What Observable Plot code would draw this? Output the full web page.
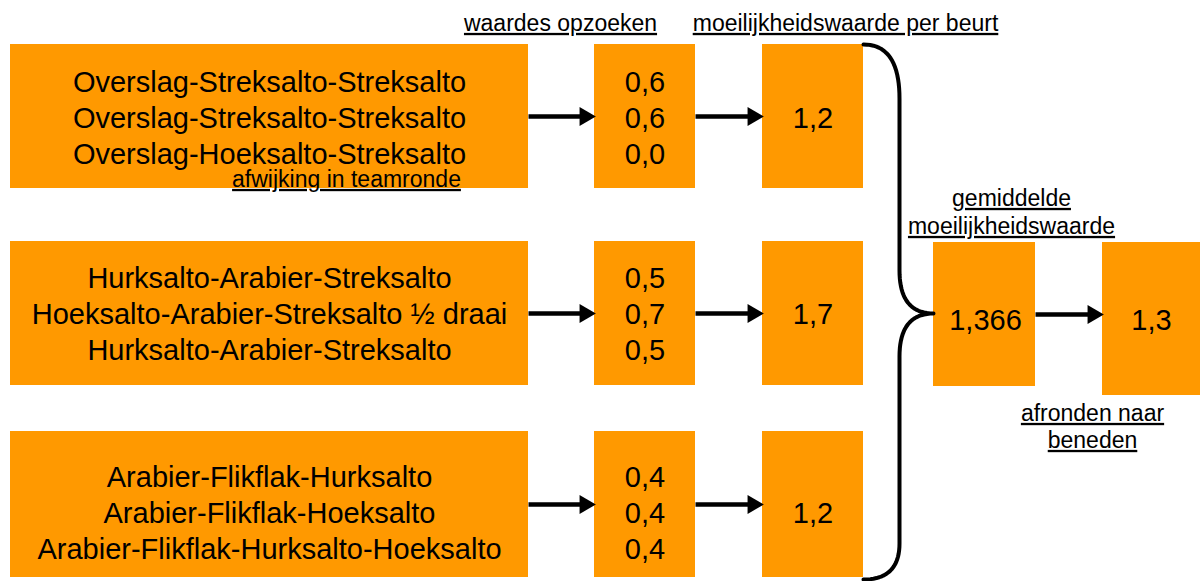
<!DOCTYPE html>
<html><head><meta charset="utf-8">
<script src="https://cdn.jsdelivr.net/npm/d3@7"></script>
<script src="https://cdn.jsdelivr.net/npm/@observablehq/plot@0.6"></script>
<style>body{margin:0;background:#fff} svg{display:block}</style>
</head><body><div id="chart"></div>
<script>
// ---- content (data) ----
const moves = [
  ["Overslag-Streksalto-Streksalto", "Overslag-Streksalto-Streksalto", "Overslag-Hoeksalto-Streksalto"],
  ["Hurksalto-Arabier-Streksalto", "Hoeksalto-Arabier-Streksalto ½ draai", "Hurksalto-Arabier-Streksalto"],
  ["Arabier-Flikflak-Hurksalto", "Arabier-Flikflak-Hoeksalto", "Arabier-Flikflak-Hurksalto-Hoeksalto"]
];
const lookupValues = [[0.6, 0.6, 0.0], [0.5, 0.7, 0.5], [0.4, 0.4, 0.4]];
const roundValues = [1.2, 1.7, 1.2];
const averageValue = "1,366";
const roundedValue = "1,3";
const headerLabels = ["waardes opzoeken", "moeilijkheidswaarde per beurt"];
const averageLabel = ["gemiddelde", "moeilijkheidswaarde"];
const roundingLabel = ["afronden naar", "beneden"];
const noteLabel = "afwijking in teamronde";

// ---- layout ----
const W = 1200, H = 581;
const col = {moves: [10, 528], lookup: [594, 695], round: [762, 863], avg: [933, 1035], rounded: [1102, 1200]};
const rowBox = [[44, 188], [241, 385], [431, 577]];
const rowText = [118, 314, 513];
const lineGap = 36;
const avgBox = [242, 386], roundedBox = [242, 395], avgMidY = 314, avgTextY = 320;
const headerY = 23;
const ORANGE = "#ff9900";
const mid = a => (a[0] + a[1]) / 2;

const fmt = d3.formatLocale({decimal: ",", thousands: ".", grouping: [3], currency: ["€", ""]}).format(".1f");

// boxes
const boxes = [];
rowBox.forEach(r => {
  ["moves", "lookup", "round"].forEach(c => boxes.push({x1: col[c][0], x2: col[c][1], y1: r[0], y2: r[1]}));
});
boxes.push({x1: col.avg[0], x2: col.avg[1], y1: avgBox[0], y2: avgBox[1]});
boxes.push({x1: col.rounded[0], x2: col.rounded[1], y1: roundedBox[0], y2: roundedBox[1]});

// texts
const bigTexts = [];
moves.forEach((lines, r) => lines.forEach((t, i) => bigTexts.push({x: mid(col.moves), y: rowText[r] + (i - 1) * lineGap, t})));
lookupValues.forEach((vals, r) => vals.forEach((v, i) => bigTexts.push({x: mid(col.lookup), y: rowText[r] + (i - 1) * lineGap, t: fmt(v)})));
roundValues.forEach((v, r) => bigTexts.push({x: mid(col.round), y: rowText[r], t: fmt(v)}));
bigTexts.push({x: mid(col.avg) + 1, y: avgTextY, t: averageValue});
bigTexts.push({x: mid(col.rounded), y: avgTextY, t: roundedValue});

const smallTexts = [
  {x: 560, y: headerY, t: headerLabels[0]},
  {x: 845, y: headerY, t: headerLabels[1]},
  {x: 346, y: 179, t: noteLabel},
  {x: 1011, y: 198, t: averageLabel[0]},
  {x: 1011, y: 226, t: averageLabel[1]},
  {x: 1092, y: 413, t: roundingLabel[0]},
  {x: 1092, y: 440, t: roundingLabel[1]}
];

// arrows
const arrows = [];
rowBox.forEach(r => {
  const y = mid(r);
  arrows.push({x1: col.moves[1], x2: col.lookup[0], y});
  arrows.push({x1: col.lookup[1], x2: col.round[0], y});
});
arrows.push({x1: col.avg[1], x2: col.rounded[0], y: avgMidY});
const headBack = 9.5;

// brace (quadratic segments sampled)
const braceSegs = [
  {from: [863, 44], ctrl: [899, 44], to: [899, 98]},
  {from: [899, 98], ctrl: [899, 98], to: [899, 270]},
  {from: [899, 270], ctrl: [899, 313], to: [933, 313]},
  {from: [933, 313], ctrl: [899, 313], to: [899, 356]},
  {from: [899, 356], ctrl: [899, 356], to: [899, 543]},
  {from: [899, 543], ctrl: [899, 579], to: [863, 579]}
];
const brace = [];
braceSegs.forEach(s => {
  for (let k = 0; k <= 20; k++) {
    const t = k / 20, u = 1 - t;
    brace.push({
      x: u * u * s.from[0] + 2 * u * t * s.ctrl[0] + t * t * s.to[0],
      y: u * u * s.from[1] + 2 * u * t * s.ctrl[1] + t * t * s.to[1]
    });
  }
});

const chart = Plot.plot({
  width: W, height: H, margin: 0,
  x: {domain: [0, W], range: [0, W], axis: null},
  y: {domain: [0, H], range: [0, H], axis: null},
  style: {fontFamily: "'Liberation Sans', Arial, sans-serif", background: "#fff"},
  marks: [
    Plot.rect(boxes, {x1: "x1", x2: "x2", y1: "y1", y2: "y2", fill: ORANGE}),
    Plot.line(brace, {x: "x", y: "y", stroke: "black", strokeWidth: 4, curve: "linear"}),
    Plot.link(arrows, {x1: "x1", x2: d => d.x2 - headBack, y1: "y", y2: "y", stroke: "black", strokeWidth: 4.5}),
    Plot.dot(arrows, {x: d => d.x2 - headBack, y: "y", symbol: "triangle", rotate: 90, r: 7, fill: "black", stroke: "none"}),
    Plot.text(bigTexts, {x: "x", y: "y", text: "t", fontSize: 29, fill: "black"}),
    Plot.text(smallTexts, {x: "x", y: "y", text: "t", fontSize: 23, fill: "black", ariaDescription: "underlined"})
  ]
});
chart.querySelectorAll('g[aria-description="underlined"] text').forEach(t => t.style.textDecoration = "underline");
document.getElementById("chart").appendChild(chart);
</script>
</body></html>
